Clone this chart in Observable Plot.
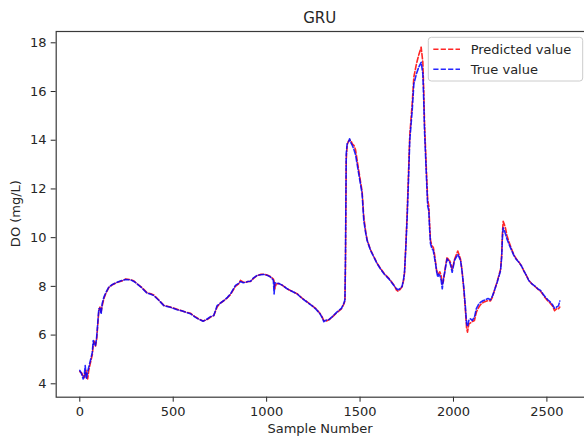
<!DOCTYPE html>
<html>
<head>
<meta charset="utf-8">
<script src="https://cdn.jsdelivr.net/npm/d3@7"></script>
<script src="https://cdn.jsdelivr.net/npm/@observablehq/plot@0.6"></script>
<style>
  html, body { margin: 0; padding: 0; background: white; }
  #chart { width: 584px; height: 441px; overflow: hidden; }
</style>
</head>
<body>
<div id="chart"></div>
<script>
const sampleNumber = [0,10,18,24,29,33,36,42,48,55,61,67,72,78,84,90,93,98,102,108,114,120,129,140,155,175,200,225,245,271,290,307,330,360,380,396,420,450,485,521,545,566,592,615,637,660,680,700,717,735,750,771,790,807,833,850,860,875,887,900,914,930,949,970,985,1005,1021,1036,1040,1044,1051,1065,1083,1110,1135,1163,1190,1217,1240,1262,1285,1297,1306,1320,1333,1350,1377,1400,1413,1419,1422,1426,1431,1437,1444,1451,1458,1468,1476,1493,1511,1520,1530,1538,1555,1574,1590,1609,1630,1654,1681,1695,1704,1715,1725,1733,1738,1745,1752,1759,1766,1779,1788,1802,1814,1827,1836,1841,1845,1856,1862,1868,1872,1877,1885,1892,1898,1904,1910,1916,1922,1927,1934,1940,1946,1952,1960,1966,1973,1980,1987,1993,2000,2005,2015,2023,2030,2038,2046,2055,2064,2070,2075,2082,2091,2100,2112,2123,2136,2145,2160,2171,2185,2198,2208,2216,2234,2252,2258,2262,2266,2272,2278,2286,2296,2310,2323,2337,2350,2363,2376,2390,2403,2420,2439,2452,2466,2480,2492,2505,2519,2530,2541,2548,2555,2562,2569];

const trueValue = [4.55,4.4,4.2,4.35,4.75,4.3,4.2,4.5,4.68,4.9,5.09,5.3,5.78,5.6,5.57,5.9,6.19,6.7,7.08,7.1,6.87,7.3,7.56,7.75,7.97,8.08,8.17,8.24,8.28,8.27,8.2,8.1,7.95,7.72,7.68,7.62,7.45,7.21,7.14,7.04,7.0,6.94,6.88,6.75,6.65,6.57,6.65,6.76,6.8,7.21,7.3,7.42,7.55,7.69,8.04,8.12,8.2,8.15,8.17,8.2,8.21,8.35,8.45,8.48,8.49,8.45,8.38,8.25,7.69,8.15,8.13,8.12,8.05,7.9,7.8,7.69,7.5,7.35,7.22,7.08,6.88,6.72,6.55,6.62,6.63,6.75,6.95,7.1,7.3,7.45,9.3,13.44,13.85,13.9,14.06,13.9,13.8,13.6,13.4,12.62,11.8,10.7,10.2,9.88,9.5,9.2,8.95,8.72,8.5,8.31,8.04,7.9,7.86,7.92,8.0,8.3,8.6,9.6,10.8,12.3,13.99,15.22,16.32,16.73,17.0,17.2,16.73,15.6,14.4,12.35,11.3,11.1,10.4,9.75,9.55,9.47,9.2,8.93,8.6,8.38,8.5,8.45,8.25,7.9,8.3,8.52,8.9,9.13,9.05,8.99,8.8,8.58,8.85,9.06,9.2,9.31,9.2,9.06,8.6,7.97,7.14,6.5,6.35,6.6,6.67,6.6,6.73,7.1,7.28,7.35,7.42,7.45,7.5,7.45,7.6,7.76,8.17,8.65,9.2,10.0,10.4,10.3,10.16,9.95,9.75,9.5,9.27,9.1,8.99,8.85,8.65,8.45,8.24,8.1,7.99,7.9,7.83,7.68,7.56,7.45,7.35,7.25,7.1,7.12,7.17,7.2,7.4];

const predictedValue = [4.5,4.45,4.3,4.25,4.5,4.55,4.3,4.2,4.55,4.8,5.0,5.2,5.6,5.75,5.55,5.8,6.1,6.6,7.0,7.15,6.95,7.2,7.5,7.72,7.95,8.07,8.16,8.22,8.3,8.28,8.22,8.1,7.97,7.74,7.7,7.65,7.46,7.22,7.15,7.06,7.0,6.95,6.9,6.77,6.66,6.58,6.63,6.74,6.8,7.15,7.3,7.41,7.53,7.67,8.0,8.1,8.25,8.17,8.16,8.2,8.2,8.33,8.44,8.5,8.5,8.46,8.4,8.3,8.2,7.9,8.1,8.12,8.05,7.9,7.8,7.7,7.52,7.36,7.23,7.1,6.9,6.75,6.6,6.58,6.63,6.73,6.93,7.08,7.27,7.4,8.8,13.2,13.8,13.95,14.0,14.0,13.85,13.78,13.6,12.75,11.9,10.85,10.25,9.9,9.52,9.22,8.97,8.74,8.52,8.33,8.06,7.85,7.8,7.88,7.98,8.25,8.55,9.7,11.0,12.6,14.2,15.5,16.6,17.14,17.5,17.82,17.2,16.0,14.7,12.6,11.55,11.3,10.6,9.9,9.65,9.6,9.35,9.0,8.65,8.5,8.55,8.6,8.45,8.1,8.2,8.55,8.95,9.2,9.1,9.05,8.9,8.7,8.9,9.1,9.3,9.45,9.3,9.1,8.65,7.9,7.0,6.3,6.12,6.45,6.5,6.55,6.6,6.95,7.15,7.25,7.35,7.38,7.42,7.4,7.55,7.75,8.2,8.7,9.3,10.2,10.67,10.55,10.4,10.1,9.85,9.55,9.3,9.12,9.0,8.85,8.65,8.45,8.25,8.1,7.98,7.88,7.8,7.65,7.52,7.4,7.3,7.2,7.0,7.05,7.1,7.08,7.15];

const xTicks = [0, 500, 1000, 1500, 2000, 2500];
const yTicks = [4, 6, 8, 10, 12, 14, 16, 18];
const seriesNames = ["Predicted value", "True value"];
const seriesColors = ["#ff0000", "#0000ff"];

const rows = sampleNumber.map((s, i) => ({s, t: trueValue[i], p: predictedValue[i]}));

const lineStyle = {strokeWidth: 1.6, strokeDasharray: "5.2,2.2", strokeOpacity: 0.85};

const chart = Plot.plot({
  width: 584,
  height: 441,
  marginLeft: 55.7,
  marginRight: -5,
  marginTop: 31,
  marginBottom: 44.3,
  style: {fontFamily: "DejaVu Sans", fontSize: "13px", color: "#262626", background: "white", overflow: "hidden"},
  x: {domain: [-126.3, 2728], ticks: xTicks, tickSize: 5, tickPadding: 5, label: null, tickFormat: d => String(d)},
  y: {domain: [3.45, 18.464], ticks: yTicks, tickSize: 5, tickPadding: 4.7, label: null},
  marks: [
    Plot.line(rows, {x: "s", y: "p", stroke: seriesColors[0], ...lineStyle}),
    Plot.line(rows, {x: "s", y: "t", stroke: seriesColors[1], ...lineStyle}),
    Plot.frame({stroke: "#3a3a3a", strokeWidth: 1.2})
  ]
});

document.getElementById("chart").appendChild(chart);

const svg = d3.select(chart);
svg.append("text").attr("x", 319.7).attr("y", 23).attr("text-anchor", "middle")
  .attr("font-size", 15).attr("fill", "#262626").text("GRU");
svg.append("text").attr("x", 320).attr("y", 433).attr("text-anchor", "middle")
  .attr("font-size", 13).attr("fill", "#262626").text("Sample Number");
svg.append("text").attr("transform", "translate(19.5,213.6) rotate(-90)").attr("text-anchor", "middle")
  .attr("font-size", 13).attr("fill", "#262626").text("DO (mg/L)");

const lg = svg.append("g").attr("text-anchor", "start");
lg.append("rect").attr("x", 428.3).attr("y", 37.3).attr("width", 154.4).attr("height", 43.7)
  .attr("rx", 3).attr("fill", "white").attr("fill-opacity", 0.8).attr("stroke", "#cccccc").attr("stroke-width", 1);
seriesNames.forEach((name, i) => {
  const yy = 49.3 + i * 20;
  lg.append("line").attr("x1", 433.3).attr("x2", 460).attr("y1", yy).attr("y2", yy)
    .attr("stroke", seriesColors[i]).attr("stroke-width", 1.6).attr("stroke-dasharray", "5.2,2.2").attr("stroke-opacity", 0.85);
  lg.append("text").attr("x", 470.7).attr("y", yy + 4.4).attr("text-anchor", "start")
    .attr("font-size", 13).attr("fill", "#262626").text(name);
});
</script>
</body>
</html>
